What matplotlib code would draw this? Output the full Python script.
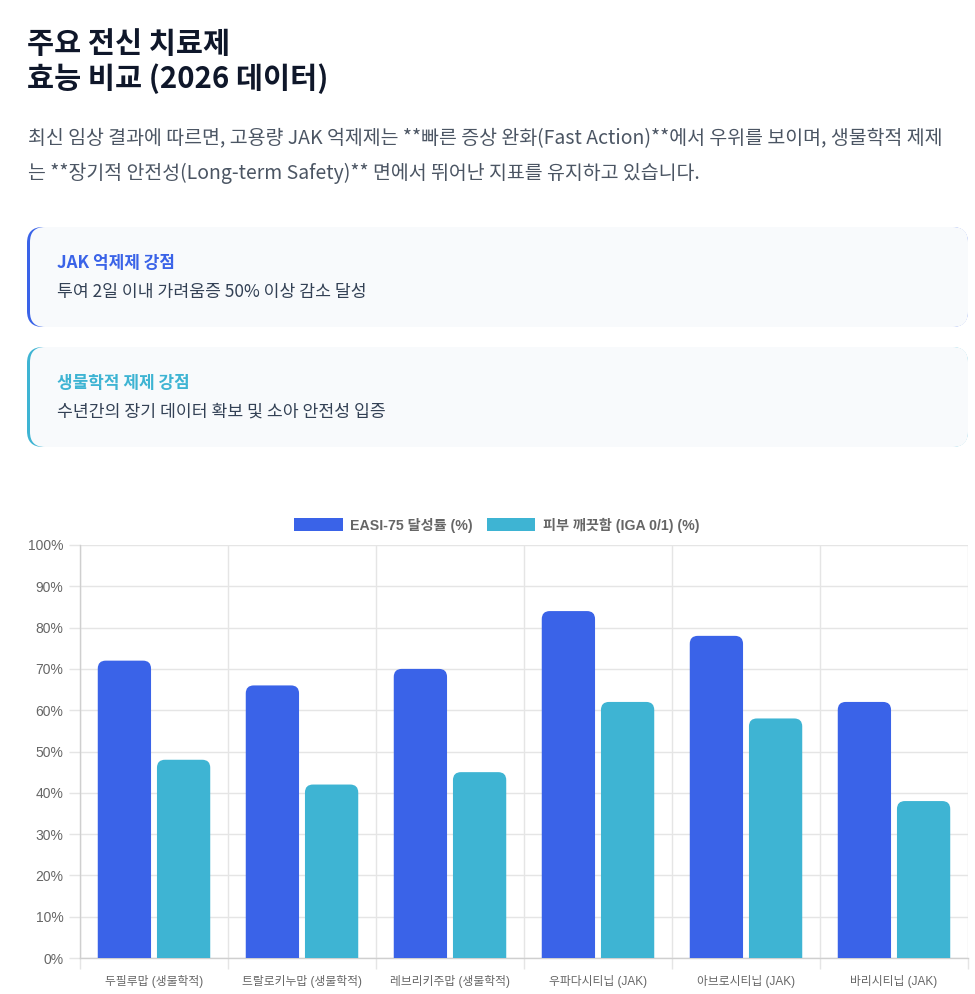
import matplotlib
matplotlib.use("Agg")
import matplotlib.pyplot as plt
from matplotlib.patches import FancyBboxPatch, PathPatch, Patch
from matplotlib.path import Path
import numpy as np

# ---------------- data ----------------
categories = ["두필루맙 (생물학적)", "트랄로키누맙 (생물학적)", "레브리키주맙 (생물학적)",
              "우파다시티닙 (JAK)", "아브로시티닙 (JAK)", "바리시티닙 (JAK)"]
easi75 = [72, 66, 70, 84, 78, 62]
iga = [48, 42, 45, 62, 58, 38]
series_names = ["EASI-75 달성률 (%)", "피부 깨끗함 (IGA 0/1) (%)"]
y_ticks = [0, 10, 20, 30, 40, 50, 60, 70, 80, 90, 100]

title_lines = ["주요 전신 치료제", "효능 비교 (2026 데이터)"]
para_lines = ["최신 임상 결과에 따르면, 고용량 JAK 억제제는 **빠른 증상 완화(Fast Action)**에서 우위를 보이며, 생물학적 제제",
              "는 **장기적 안전성(Long-term Safety)** 면에서 뛰어난 지표를 유지하고 있습니다."]
card_titles = ["JAK 억제제 강점", "생물학적 제제 강점"]
card_texts = ["투여 2일 이내 가려움증 50% 이상 감소 달성", "수년간의 장기 데이터 확보 및 소아 안전성 입증"]

BLUE = "#3a63e8"
CYAN = "#3eb4d3"
KR = ["Noto Sans CJK KR", "DejaVu Sans"]
CH = ["Liberation Sans", "Noto Sans CJK KR", "DejaVu Sans"]

W, H = 975, 994
fig = plt.figure(figsize=(W / 100, H / 100), dpi=100, facecolor="white")

# background layer in pixel units
bg = fig.add_axes([0, 0, 1, 1], zorder=0)
bg.set_xlim(0, W)
bg.set_ylim(H, 0)
bg.axis("off")

bg.text(27, 44, title_lines[0], fontsize=21.2, fontweight="bold", color="#0f172a",
        family=KR, va="center", ha="left")
bg.text(27, 79, title_lines[1], fontsize=21.2, fontweight="bold", color="#0f172a",
        family=KR, va="center", ha="left")
bg.text(28, 139, para_lines[0], fontsize=14.0, color="#4b5563", family=KR, va="center", ha="left")
bg.text(28, 173, para_lines[1], fontsize=14.0, color="#4b5563", family=KR, va="center", ha="left")

card_tops = [227, 347]
card_colors = [BLUE, CYAN]
for top, col, t, s in zip(card_tops, card_colors, card_titles, card_texts):
    h = 100
    bg.add_patch(FancyBboxPatch((27, top), 941, h, boxstyle="round,pad=0,rounding_size=16",
                                facecolor=col, edgecolor="none"))
    bg.add_patch(FancyBboxPatch((30, top), 938, h, boxstyle="round,pad=0,rounding_size=15",
                                facecolor="#f8fafc", edgecolor="none"))
    bg.text(57, top + 36, t, fontsize=12.2, fontweight="bold", color=col, family=KR,
            va="center", ha="left")
    bg.text(57, top + 65, s, fontsize=12.4, color="#334155", family=KR,
            va="center", ha="left")

# ---------------- chart ----------------
left, right, top_px, bot_px = 80, 968, 545, 958
ax = fig.add_axes([left / W, 1 - bot_px / H, (right - left) / W, (bot_px - top_px) / H], zorder=2)
ax.set_facecolor("none")
x = np.arange(len(categories))
ax.set_xlim(-0.5, len(categories) - 0.5)
ax.set_ylim(0, 100)

grid_c = "#e5e5e5"
ax.set_yticks(y_ticks)
ax.set_yticklabels([f"{v}%" for v in y_ticks], family=CH, fontsize=10.0, color="#666666")
ax.set_xticks(x)
ax.set_xticklabels(categories, family=CH, fontsize=8.5, color="#666666")
ax.set_xticks(np.arange(-0.5, len(categories)), minor=True)
ax.tick_params(axis="x", which="major", length=0, pad=12)
ax.tick_params(axis="x", which="minor", length=8, color=grid_c, width=1)
ax.tick_params(axis="y", length=8, color=grid_c, width=1, pad=4)
ax.grid(axis="y", color=grid_c, linewidth=1)
ax.grid(axis="x", which="minor", color=grid_c, linewidth=1)
ax.set_axisbelow(True)
for sp in ["top", "right"]:
    ax.spines[sp].set_visible(False)
for sp in ["left", "bottom"]:
    ax.spines[sp].set_color("#cfcfcf")
    ax.spines[sp].set_linewidth(1)

bw = 0.36
rects_b = ax.bar(x - 0.2, easi75, width=bw, color=BLUE, alpha=0)
rects_c = ax.bar(x + 0.2, iga, width=bw, color=CYAN, alpha=0)

# rounded top corners (radius in pixels, converted into data units)
fig.canvas.draw()
bb = ax.get_window_extent()
px_x = bb.width / (ax.get_xlim()[1] - ax.get_xlim()[0])
px_y = bb.height / (ax.get_ylim()[1] - ax.get_ylim()[0])
r_px = 8


def round_top(rect, color):
    x0, y0 = rect.get_x(), rect.get_y()
    w, h = rect.get_width(), rect.get_height()
    rx = r_px / px_x
    ry = min(r_px / px_y, h)
    x1, y1 = x0 + w, y0 + h
    verts = [(x0, y0), (x0, y1 - ry), (x0, y1), (x0 + rx, y1), (x1 - rx, y1), (x1, y1),
             (x1, y1 - ry), (x1, y0), (x0, y0)]
    codes = [Path.MOVETO, Path.LINETO, Path.CURVE3, Path.CURVE3, Path.LINETO, Path.CURVE3,
             Path.CURVE3, Path.LINETO, Path.CLOSEPOLY]
    ax.add_patch(PathPatch(Path(verts, codes), facecolor=color, edgecolor="none", zorder=3))


for r in rects_b:
    round_top(r, BLUE)
for r in rects_c:
    round_top(r, CYAN)

handles = [Patch(facecolor=BLUE, edgecolor="none"), Patch(facecolor=CYAN, edgecolor="none")]
fig.legend(handles, series_names, loc="center", bbox_to_anchor=(497 / W, 1 - 525 / H),
           ncol=2, frameon=False, handlelength=3.4, handleheight=1.0, handletextpad=0.55,
           columnspacing=1.0, prop={"family": CH, "size": 10.2, "weight": "bold"},
           labelcolor="#666666")

fig.savefig("out.png", dpi=100, facecolor="white")
